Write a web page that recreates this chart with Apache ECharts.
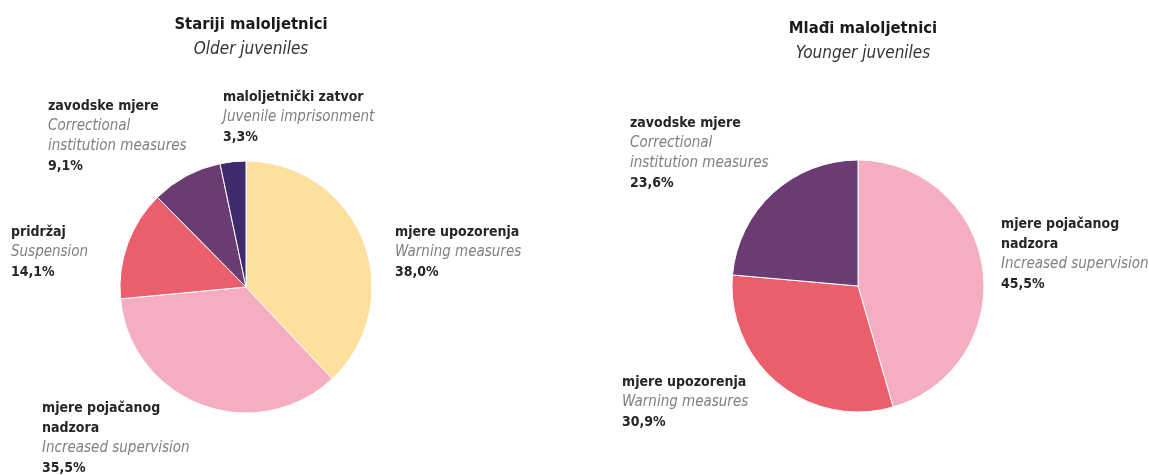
<!DOCTYPE html>
<html>
<head>
<meta charset="utf-8">
<script src="https://cdn.jsdelivr.net/npm/echarts@6/dist/echarts.min.js"></script>
<style>
html,body{margin:0;padding:0;background:#fff;}
#c{width:1149px;height:475px;}
</style>
</head>
<body>
<div id="c"></div>
<script>
// ---- data ----
const titlesHr = ['Stariji maloljetnici', 'Mlađi maloljetnici'];
const titlesEn = ['Older juveniles', 'Younger juveniles'];

const olderNames = ['mjere upozorenja', 'mjere pojačanog\nnadzora', 'pridržaj', 'zavodske mjere', 'maloljetnički zatvor'];
const olderEnglish = ['Warning measures', 'Increased supervision', 'Suspension', 'Correctional\ninstitution measures', 'Juvenile imprisonment'];
const olderValues = [38.0, 35.5, 14.1, 9.1, 3.3];

const youngerNames = ['mjere pojačanog\nnadzora', 'mjere upozorenja', 'zavodske mjere'];
const youngerEnglish = ['Increased supervision', 'Warning measures', 'Correctional\ninstitution measures'];
const youngerValues = [45.5, 30.9, 23.6];

// ---- styles / layout ----
const FONT = "'Liberation Sans Narrow', 'DejaVu Sans Condensed', 'Arial Narrow', sans-serif";
const colorMap = {
  'mjere upozorenja': '#FDDF9E',
  'mjere pojačanog\nnadzora': '#F5AEC1',
  'pridržaj': '#EB5F6C',
  'zavodske mjere': '#6B3B74',
  'maloljetnički zatvor': '#3D2B6C'
};
const colorMapYoung = {
  'mjere pojačanog\nnadzora': '#F5AEC1',
  'mjere upozorenja': '#EB5F6C',
  'zavodske mjere': '#6B3B74'
};
const olderLabelPos = [[395, 222], [42, 398], [11, 222], [48, 96], [223, 87]];
const youngerLabelPos = [[1001, 214], [622, 372], [630, 113]];

function fmt(v) { return v.toFixed(1).replace('.', ',') + '%'; }

function buildData(names, eng, vals, cmap) {
  return names.map((n, i) => ({
    name: n,
    value: vals[i],
    eng: eng[i],
    itemStyle: { color: cmap[n] }
  }));
}

const rich = {
  b: { fontFamily: FONT, fontWeight: 'bold', fontSize: 14, color: '#262626', lineHeight: 20 },
  e: { fontFamily: FONT, fontStyle: 'italic', fontSize: 15, color: '#808080', lineHeight: 20 },
  p: { fontFamily: FONT, fontWeight: 'bold', fontSize: 14, color: '#262626', lineHeight: 20 }
};

function labelFormatter(p) {
  const nameLines = p.name.split('\n').map(s => '{b|' + s + '}').join('\n');
  const engLines = p.data.eng.split('\n').map(s => '{e|' + s + '}').join('\n');
  return nameLines + '\n' + engLines + '\n{p|' + fmt(p.value) + '}';
}

function pieSeries(data, center, posArr) {
  return {
    type: 'pie',
    center: center,
    radius: 126,
    startAngle: 90,
    clockwise: true,
    silent: true,
    animation: false,
    data: data,
    itemStyle: { borderColor: '#ffffff', borderWidth: 1 },
    label: { show: true, formatter: labelFormatter, rich: rich, align: 'left', overflow: 'none', width: 300 },
    labelLine: { show: false },
    labelLayout: function (params) {
      const pos = posArr[params.dataIndex];
      return { x: pos[0], y: pos[1], align: 'left', verticalAlign: 'top', moveOverlap: false };
    },
    emphasis: { disabled: true }
  };
}

const chart = echarts.init(document.getElementById('c'), null, { renderer: 'canvas' });
chart.setOption({
  backgroundColor: '#ffffff',
  animation: false,
  title: [
    {
      text: titlesHr[0], subtext: titlesEn[0], left: 246, top: 11, textAlign: 'center', itemGap: 8,
      textStyle: { fontFamily: FONT, fontWeight: 'bold', fontSize: 16.5, color: '#1a1a1a' },
      subtextStyle: { fontFamily: FONT, fontStyle: 'italic', fontSize: 17, color: '#333' }
    },
    {
      text: titlesHr[1], subtext: titlesEn[1], left: 858, top: 15, textAlign: 'center', itemGap: 8,
      textStyle: { fontFamily: FONT, fontWeight: 'bold', fontSize: 16.5, color: '#1a1a1a' },
      subtextStyle: { fontFamily: FONT, fontStyle: 'italic', fontSize: 17, color: '#333' }
    }
  ],
  series: [
    pieSeries(buildData(olderNames, olderEnglish, olderValues, colorMap), [246, 287], olderLabelPos),
    pieSeries(buildData(youngerNames, youngerEnglish, youngerValues, colorMapYoung), [858, 286], youngerLabelPos)
  ]
});
</script>
</body>
</html>
